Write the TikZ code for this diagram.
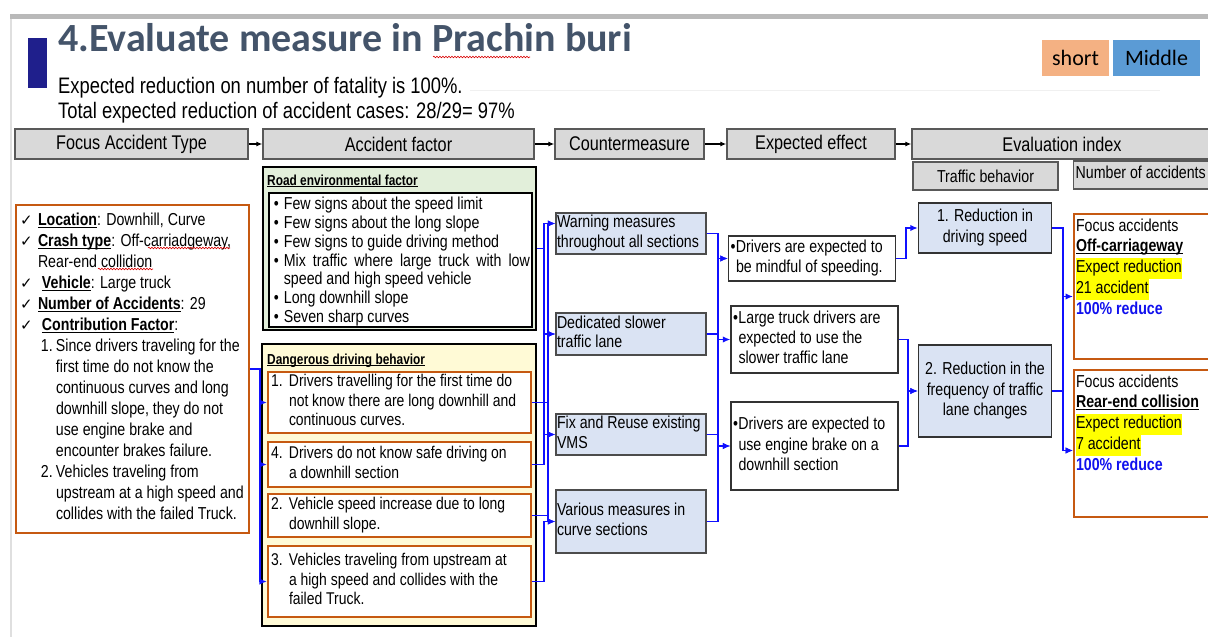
\documentclass[tikz,border=0pt]{standalone}
\usepackage{fontspec}
\setmainfont{Liberation Sans}[FakeStretch=0.82]
\newfontfamily\titlefont{Carlito}
\newfontfamily\symfont{DejaVu Sans}
\usetikzlibrary{arrows.meta,calc,decorations.pathmorphing}

\definecolor{ttl}{HTML}{44546A}
\definecolor{navy}{HTML}{1F1F8C}
\definecolor{brd}{HTML}{C65911}
\definecolor{hdfill}{HTML}{D9D9D9}
\definecolor{cmfill}{HTML}{DAE3F3}
\definecolor{envfill}{HTML}{E2EFDA}
\definecolor{behfill}{HTML}{FFFAD6}
\definecolor{lnk}{HTML}{1010FF}
\definecolor{shortc}{HTML}{F4B183}
\definecolor{midc}{HTML}{5B9BD5}
\definecolor{hl}{HTML}{FFFF00}
\definecolor{pct}{HTML}{1010EE}

\newcommand{\ck}{\makebox[18pt][l]{\symfont\fontsize{15}{15}\selectfont ✓}}
\newcommand{\ulbf}[1]{\setbox0\hbox{\bfseries #1}\rlap{\rule[-2pt]{\wd0}{0.9pt}}\box0}
\newcommand{\hly}[1]{{\fboxsep=0pt\colorbox{hl}{\strut #1}}}
\newcommand{\nm}[1]{\makebox[18pt][l]{#1}}
\newcommand{\ind}{\hspace*{18pt}}
\newcommand{\bl}{\hspace*{5pt}\makebox[10pt][l]{•}}
\newcommand{\bu}{\makebox[5.5pt][l]{•}}
\newcommand{\bi}{\hspace*{5.5pt}}
\newcommand{\lft}[2]{\makebox[#1][l]{\begin{tabular}{@{}l@{}}#2\end{tabular}}}
\newcommand{\ctr}[1]{\begin{tabular}{@{}c@{}}#1\end{tabular}}

\tikzset{hdbox/.style={draw=black!65, line width=1.4pt, fill=hdfill, minimum height=30, inner sep=0pt, font=\fontsize{19.8}{22}\selectfont}}
\tikzset{subhd/.style={hdbox, minimum height=28, font=\fontsize{17.3}{19}\selectfont}}
\tikzset{cmbox/.style={draw=black!70, line width=1.3pt, fill=cmfill, minimum width=150, inner xsep=1pt, inner ysep=0pt, font=\fontsize{17.3}{19.3}\selectfont}}
\tikzset{fxbox/.style={draw=black!80, line width=1.3pt, fill=white, minimum width=167, inner xsep=2pt, inner ysep=0pt, font=\fontsize{17.3}{20.3}\selectfont}}
\tikzset{tbbox/.style={draw=black!80, line width=1.3pt, fill=cmfill, minimum width=133, inner sep=0pt, font=\fontsize{17.3}{20.5}\selectfont}}
\tikzset{ddbox/.style={draw=brd, line width=2.2pt, fill=white, minimum width=263, inner xsep=3pt, inner ysep=0pt, font=\fontsize{17}{19.5}\selectfont}}
\tikzset{accbox/.style={draw=brd, line width=2pt, fill=white, anchor=north west, inner xsep=2pt, inner ysep=0pt, font=\fontsize{17.3}{20.8}\selectfont}}
\tikzset{grpbox/.style={draw=black, line width=2.4pt}}
\tikzset{grptitle/.style={anchor=base west, inner sep=0pt, font=\bfseries\fontsize{14.5}{16}\selectfont}}
\tikzset{hcon/.style={draw=black, line width=1.1pt, -{Latex[length=6pt,width=5pt]}}}
\tikzset{link/.style={draw=lnk, line width=1.8pt, -{Latex[length=7.5pt,width=6.5pt]}}}
\tikzset{spell/.style={draw=red!85!black, line width=0.6pt, decorate, decoration={snake, amplitude=0.8pt, segment length=3pt}}}

\begin{document}
\begin{tikzpicture}[x=1pt,y=-1pt]
\useasboundingbox (0,0) rectangle (1208,637);
\fill[white] (0,0) rectangle (1208,637);
% slide frame
\fill[gray!55] (10,14) rectangle (1208,19);
\draw[gray!25, line width=1.5pt] (11,19) -- (11,637);
\draw[gray!12] (470,90) -- (1160,90);
\fill[navy] (28,38) rectangle (47,88);

\node[anchor=base west, inner sep=0pt, text=ttl, font=\titlefont\bfseries\fontsize{40}{44}\selectfont] (title) at (58,51) {4.Evaluate measure in Prachin buri};
\draw[spell] (433,57) -- (530,57);
\node[anchor=base west, inner sep=0pt, font=\fontsize{22.4}{26}\selectfont] (sub1) at (58,93) {Expected reduction on number of fatality is 100\%.};
\node[anchor=base west, inner sep=0pt, font=\fontsize{22.4}{26}\selectfont] (sub2) at (58,118) {Total expected reduction of accident cases: 28/29= 97\%};
\node[fill=shortc, minimum width=67, minimum height=36, inner sep=0pt, font=\titlefont\fontsize{22}{26}\selectfont] (short) at (1075.5,58) {short};
\node[fill=midc, minimum width=87, minimum height=36, inner sep=0pt, font=\titlefont\fontsize{22}{26}\selectfont] (middle) at (1156.5,58) {Middle};

% column heads
\node[hdbox, minimum width=233] (hfoc) at (131.5,144) {Focus Accident Type};
\node[hdbox, minimum width=271] (hfac) at (398.5,144) {Accident factor};
\node[hdbox, minimum width=149] (hcm) at (629.5,144) {Countermeasure};
\node[hdbox, minimum width=168] (heff) at (811,144) {Expected effect};
\node[hdbox, minimum width=300] (hev) at (1062,144) {Evaluation index};
\draw[hcon] (hfoc) -- (hfac);
\draw[hcon] (hfac) -- (hcm);
\draw[hcon] (hcm) -- (heff);
\draw[hcon] (heff) -- (hev);
\node[subhd, minimum width=145] (htb) at (985.5,176) {Traffic behavior};
\node[subhd, minimum width=150, anchor=west, inner xsep=2pt] (hacc) at (1073,175) {\lft{146pt}{Number of accidents}};

% focus accident type
\node[draw=brd, line width=2pt, fill=white, anchor=north west, inner xsep=4pt, inner ysep=0pt, font=\fontsize{17.3}{21}\selectfont] (foc) at (15,204) {\parbox[c][328pt][t]{225pt}{\rule{0pt}{20.5pt}\ck\ulbf{Location}: Downhill, Curve\\
\ck\ulbf{Crash type}: Off-carriadgeway,\\
\hspace*{18pt}Rear-end collidion\\
\ck\ \ulbf{Vehicle}: Large truck\\
\ck\ulbf{Number of Accidents}: 29\\
\ck\ \ulbf{Contribution Factor}:\\
\hspace*{21pt}\makebox[15pt][l]{1.}Since drivers traveling for the\\
\hspace*{36pt}first time do not know the\\
\hspace*{36pt}continuous curves and long\\
\hspace*{36pt}downhill slope, they do not\\
\hspace*{36pt}use engine brake and\\
\hspace*{36pt}encounter brakes failure.\\
\hspace*{21pt}\makebox[15pt][l]{2.}Vehicles traveling from\\
\hspace*{36pt}upstream at a high speed and\\
\hspace*{36pt}collides with the failed Truck.}};
\draw[spell] (148,248) -- (230,248);
\draw[spell] (98,269) -- (153,269);

% accident factors
\node[grpbox, fill=envfill, minimum width=273, minimum height=163] (env) at (399.5,248.5) {};
\node[grptitle] (envt) at (267,185) {\ulbf{Road environmental factor}};
\node[draw=black, line width=1.8pt, fill=white, anchor=north west, inner sep=0pt, font=\fontsize{17.3}{18.7}\selectfont] (envl) at (268,192) {\parbox[c][134pt][t]{263pt}{\rule{0pt}{17pt}\bl Few signs about the speed limit\\
\bl Few signs about the long slope\\
\bl Few signs to guide driving method\\
\bl\makebox[246pt][s]{Mix traffic where large truck with low}\\
\hspace*{15pt}speed and high speed vehicle\\
\bl Long downhill slope\\
\bl Seven sharp curves}};

\node[grpbox, fill=behfill, minimum width=274, minimum height=282] (beh) at (399,485) {};
\node[grptitle] (beht) at (267,364) {\ulbf{Dangerous driving behavior}};
\node[ddbox, minimum height=61] (dd1) at (399.5,402.5) {\lft{257pt}{\nm{1.}Drivers travelling for the first time do\\\ind not know there are long downhill and\\\ind continuous curves.}};
\node[ddbox, minimum height=45] (dd4) at (399.5,464.5) {\lft{257pt}{\nm{4.}Drivers do not know safe driving on\\\ind a downhill section}};
\node[ddbox, minimum height=43] (dd2) at (399.5,515.5) {\lft{257pt}{\nm{2.}Vehicle speed increase due to long\\\ind downhill slope.}};
\node[ddbox, minimum height=71] (dd3) at (399.5,581.5) {\lft{257pt}{\nm{3.}Vehicles traveling from upstream at\\\ind a high speed and collides with the\\\ind failed Truck.}};

% countermeasures
\node[cmbox, minimum height=41] (warn) at (631,233.5) {\lft{148pt}{Warning measures\\throughout all sections}};
\node[cmbox, minimum height=42] (lane) at (631,334) {\lft{148pt}{Dedicated slower\\traffic lane}};
\node[cmbox, minimum height=41] (vms) at (631,434.5) {\lft{148pt}{Fix and Reuse existing\\VMS}};
\node[cmbox, minimum height=63] (curv) at (631,521.5) {\lft{148pt}{Various measures in\\curve sections}};

% expected effects
\node[fxbox, minimum height=45] (eff1) at (812,258.5) {\lft{163pt}{\bu Drivers are expected to\\\bi be mindful of speeding.}};
\node[fxbox, minimum height=67] (eff2) at (814.5,339.5) {\lft{163pt}{\bu Large truck drivers are\\\bi expected to use the\\\bi slower traffic lane}};
\node[fxbox, minimum height=88] (eff3) at (814.5,446) {\lft{163pt}{\bu Drivers are expected to\\\bi use engine brake on a\\\bi downhill section}};

% evaluation index
\node[tbbox, minimum height=50] (tb1) at (985,228) {\ctr{1. Reduction in\\driving speed}};
\node[tbbox, minimum height=92] (tb2) at (985,391) {\ctr{2. Reduction in the\\frequency of traffic\\lane changes}};
\node[accbox] (acc1) at (1073,213) {\parbox[c][145pt][t]{140pt}{\rule{0pt}{17pt}Focus accidents\\
\ulbf{Off-carriageway}\\
\hly{Expect reduction}\\
\hly{21 accident}\\
{\bfseries\color{pct}100\% reduce}}};
\node[accbox] (acc2) at (1073,369) {\parbox[c][147pt][t]{140pt}{\rule{0pt}{17pt}Focus accidents\\
\ulbf{Rear-end collision}\\
\hly{Expect reduction}\\
\hly{7 accident}\\
{\bfseries\color{pct}100\% reduce}}};

% links
\draw[link] (foc.east) -- ++(10,0) |- (dd1.west);
\draw[link] (foc.east) -- ++(10,0) |- (dd4.west);
\draw[link] (foc.east) -- ++(10,0) |- (dd3.west);

\draw[link] (env.east) -- ++(7,0) |- ($(warn.west)+(0,-10)$);
\draw[link] (env.east) -- ++(7,0) |- (lane.west);
\draw[link] (dd1.east) -- ++(16,0) |- ($(warn.west)+(0,-10)$);
\draw[link] (dd1.east) -- ++(16,0) |- (vms.west);
\draw[link] (dd4.east) -- ++(12,0) |- (lane.west);
\draw[link] (dd4.east) -- ++(12,0) |- (vms.west);
\draw[link] (dd2.east) -- ++(16,0) |- (curv.west);
\draw[link] (dd2.east) -- ++(16,0) |- (lane.west);
\draw[link] (dd3.east) -- ++(12,0) |- (curv.west);

\draw[link] (warn.east) -- ++(11,0) |- (eff1.west);
\draw[link] (warn.east) -- ++(11,0) |- (eff3.west);
\draw[link] (lane.east) -- ++(11,0) |- (eff2.west);
\draw[link] (vms.east) -- ++(11,0) |- (eff3.west);
\draw[link] (curv.east) -- ++(11,0) |- (eff1.west);

\draw[link] (eff1.east) -- ++(10,0) |- (tb1.west);
\draw[link] (eff2.east) -- ++(9,0) |- (tb2.west);
\draw[link] (eff3.east) -- ++(9,0) |- (tb2.west);

\draw[link] (tb1.east) -- ++(10.5,0) |- ($(acc1.west)+(0,10)$);
\draw[link] (tb1.east) -- ++(10.5,0) |- ($(acc2.west)+(0,7)$);
\draw[link] (tb2.east) -- ++(10.5,0) |- ($(acc2.west)+(0,7)$);
\end{tikzpicture}
\end{document}
